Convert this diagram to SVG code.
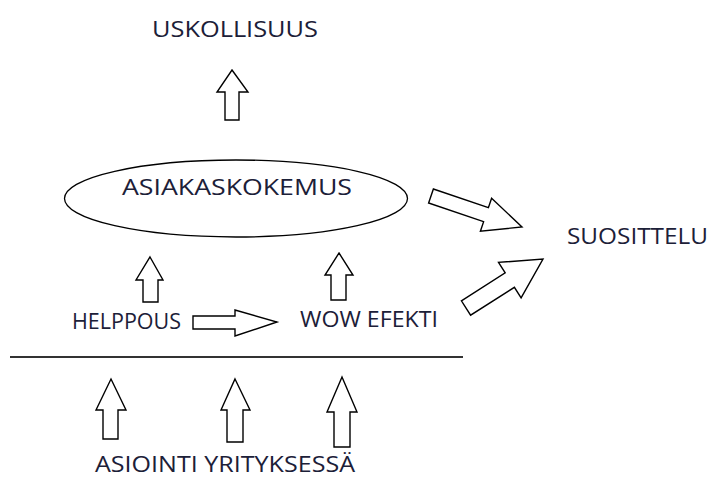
<svg xmlns="http://www.w3.org/2000/svg" width="714" height="478" viewBox="0 0 714 478">
<style>
.t{font-family:"Open Sans","Liberation Sans",Arial,sans-serif;font-size:21px;fill:#1c2038}
.a{fill:#fff;stroke:#000;stroke-width:1.4;stroke-linejoin:miter}
.sh{fill:#fff;stroke:#000;stroke-width:1.3}
</style>
<rect width="714" height="478" fill="#fff"/>
<g id="uskollisuus"><text class="t" x="152" y="37" textLength="166" lengthAdjust="spacingAndGlyphs">USKOLLISUUS</text></g>
<g id="asiakaskokemus">
<ellipse class="sh" cx="236" cy="198.5" rx="171.5" ry="38.5"/>
<text class="t" x="122" y="195" textLength="230" lengthAdjust="spacingAndGlyphs">ASIAKASKOKEMUS</text>
</g>
<g id="suosittelu"><text class="t" x="567" y="244" textLength="141" lengthAdjust="spacingAndGlyphs">SUOSITTELU</text></g>
<g id="helppous"><text class="t" x="72" y="329" textLength="109" lengthAdjust="spacingAndGlyphs">HELPPOUS</text></g>
<g id="wow-efekti"><text class="t" x="300" y="327" textLength="138" lengthAdjust="spacingAndGlyphs">WOW EFEKTI</text></g>
<g id="asiointi"><text class="t" x="95" y="472" font-size="20" textLength="260" lengthAdjust="spacingAndGlyphs">ASIOINTI YRITYKSESSÄ</text></g>
<g id="divider"><line x1="10" y1="357" x2="463" y2="357" stroke="#333" stroke-width="2"/></g>
<g id="connectors">
<path class="a" d="M232,70 L248,92 L239,92 L239,120 L225,120 L225,92 L217,92 Z"/>
<path class="a" d="M150,257 L163,280 L158,280 L158,302 L143,302 L143,280 L136,280 Z"/>
<path class="a" d="M339,253 L353,275 L346,275 L346,300 L331,300 L331,275 L325,275 Z"/>
<path class="a" d="M111,379 L126,410 L118,410 L118,439 L103,439 L103,410 L96,410 Z"/>
<path class="a" d="M235,379 L250,410 L243,410 L243,442 L227,442 L227,410 L221,410 Z"/>
<path class="a" d="M342,377 L357,412 L350,412 L350,447 L334,447 L334,412 L327,412 Z"/>
<path class="a" d="M193,316 L235,316 L235,310 L277,322 L235,336 L235,329 L193,329 Z"/>
<path class="a" d="M433.4,189 L488.4,207.7 L491.6,198.2 L522,227 L480.4,231.2 L483.6,221.7 L428.6,203 Z"/>
<path class="a" d="M461.4,300.8 L505.2,272.9 L498.5,262.4 L543,259 L521.1,297.8 L514.4,287.3 L470.6,315.2 Z"/>
</g>
</svg>
